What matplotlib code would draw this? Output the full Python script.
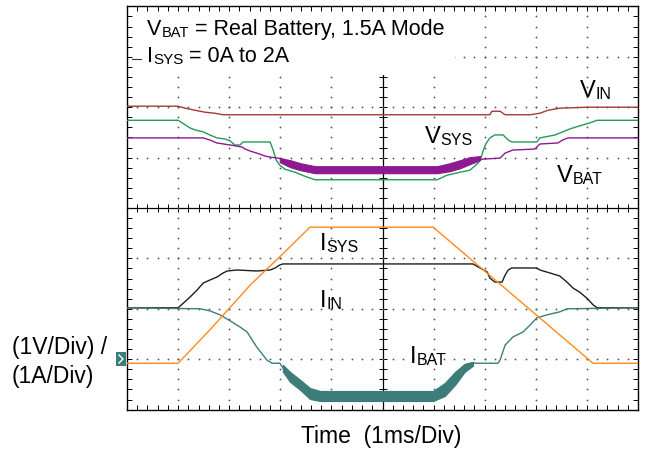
import matplotlib
matplotlib.use("Agg")
import matplotlib.pyplot as plt
import numpy as np
from matplotlib.patches import Rectangle
from matplotlib.lines import Line2D

plt.rcParams['font.family'] = ['Liberation Sans', 'DejaVu Sans']

# ---------------- data (time in ms, amplitude in screen divisions) ----------------
vin_t = [0, 1.0, 1.14, 1.33, 1.53, 1.72, 1.88, 7.10, 7.14, 7.30, 7.40, 7.89, 8.08, 8.24, 8.47, 9.00, 10]
vin_v = [6.02, 6.02, 5.98, 5.94, 5.90, 5.88, 5.85, 5.85, 5.92, 5.92, 5.85, 5.85, 5.88, 5.94, 5.98, 6.00, 6.00]

vsys_t = [0, 1.0, 1.14, 1.23, 1.33, 1.49, 1.62, 1.76, 1.92, 2.02, 2.11, 2.21, 2.27, 2.80, 2.86, 2.92,
          2.99, 3.09, 3.29, 3.48, 3.68, 6.07, 6.26, 6.52, 6.71, 6.87, 6.91, 7.01, 7.10, 7.20, 7.36,
          7.46, 7.53, 8.02, 8.08, 8.38, 8.67, 8.86, 9.06, 9.20, 10]
vsys_v = [5.74, 5.74, 5.65, 5.59, 5.55, 5.51, 5.45, 5.39, 5.37, 5.33, 5.25, 5.25, 5.31, 5.31, 5.15, 4.95,
          4.85, 4.77, 4.71, 4.63, 4.56, 4.56, 4.65, 4.71, 4.75, 4.89, 4.95, 5.25, 5.39, 5.45, 5.45,
          5.35, 5.31, 5.31, 5.39, 5.45, 5.57, 5.63, 5.69, 5.74, 5.74]

vbat_t = [0, 1.49, 1.62, 1.76, 2.02, 2.25, 2.31, 2.41, 2.60, 2.70, 2.80, 2.95, 3.05, 3.39, 3.68,
          6.07, 6.32, 6.52, 6.71, 6.97, 7.30, 7.40, 7.55, 7.98, 8.08, 8.43, 8.53, 8.63, 10]
vbat_v = [5.39, 5.39, 5.35, 5.29, 5.25, 5.21, 5.17, 5.13, 5.07, 5.03, 5.01, 4.99, 4.97, 4.83, 4.75,
          4.75, 4.81, 4.87, 4.93, 4.97, 4.99, 5.09, 5.15, 5.17, 5.27, 5.29, 5.35, 5.39, 5.39]
# noisy (ripple) envelope of VBAT during charging pulses
vbat_band_t = [2.99, 3.19, 3.39, 3.68, 4.17, 4.95, 6.07, 6.32, 6.52, 6.71, 6.91]
vbat_band_hi = [4.99, 4.95, 4.89, 4.83, 4.83, 4.83, 4.83, 4.89, 4.95, 5.01, 5.03]
vbat_band_lo = [4.91, 4.81, 4.75, 4.69, 4.69, 4.69, 4.69, 4.73, 4.79, 4.87, 4.95]

isys_t = [0, 1.0, 1.62, 2.41, 3.09, 3.58, 5.99, 9.12, 10]
isys_v = [0.92, 0.92, 1.58, 2.47, 3.13, 3.62, 3.62, 0.92, 0.92]

iin_t = [0, 1.0, 1.10, 1.23, 1.37, 1.49, 1.62, 1.76, 1.88, 1.96, 2.15, 2.54, 2.80, 2.90, 2.99, 3.05,
         6.77, 6.91, 7.05, 7.10, 7.20, 7.34, 7.40, 7.46, 7.53, 8.02, 8.08, 8.28, 8.47, 8.61, 8.73,
         8.86, 9.00, 9.12, 9.20, 10]
iin_v = [2.02, 2.02, 2.11, 2.23, 2.37, 2.51, 2.57, 2.63, 2.71, 2.75, 2.77, 2.75, 2.77, 2.81, 2.87, 2.89,
         2.89, 2.81, 2.73, 2.61, 2.53, 2.53, 2.67, 2.77, 2.81, 2.81, 2.77, 2.71, 2.65, 2.53, 2.41,
         2.33, 2.21, 2.08, 2.02, 2.02]

ibat_t = [0, 1.43, 1.62, 1.82, 2.02, 2.21, 2.35, 2.54, 2.74, 2.84, 2.99, 3.05, 3.19, 3.39, 3.58, 3.64,
          6.03, 6.26, 6.52, 6.71, 6.77, 7.26, 7.30, 7.40, 7.55, 7.75, 7.89, 8.02, 8.22, 8.47, 8.61, 10]
ibat_v = [2.02, 2.00, 1.96, 1.88, 1.76, 1.64, 1.54, 1.24, 0.98, 0.92, 0.92, 0.83, 0.63, 0.47, 0.29, 0.25,
          0.25, 0.45, 0.73, 0.89, 0.92, 0.92, 0.98, 1.28, 1.44, 1.54, 1.68, 1.82, 1.88, 1.94, 2.00, 2.02]
ibat_band_t = [3.05, 3.19, 3.39, 3.58, 3.78, 4.95, 5.99, 6.22, 6.42, 6.61, 6.77]
ibat_band_hi = [0.89, 0.75, 0.59, 0.43, 0.37, 0.37, 0.37, 0.53, 0.75, 0.91, 0.95]
ibat_band_lo = [0.75, 0.55, 0.39, 0.21, 0.17, 0.17, 0.17, 0.27, 0.49, 0.75, 0.87]

# ---------------- styling ----------------
C_VIN = '#a33b33'
C_VSYS = '#239a58'
C_VBAT = '#8e1a91'
C_ISYS = '#ff8a1c'
C_IIN = '#1e1e1e'
C_IBAT = '#3c7d7a'

W, H = 651, 455
fig = plt.figure(figsize=(W / 100, H / 100), dpi=100)
fig.patch.set_facecolor('white')
pos = [127 / W, 45.4 / H, 511 / W, 403.2 / H]

# center cross-hair axes (underneath)
axc = fig.add_axes(pos, zorder=0)
axc.set_xlim(0, 10)
axc.set_ylim(0, 8)
axc.spines['left'].set_position(('data', 5))
axc.spines['bottom'].set_position(('data', 4))
axc.spines['top'].set_visible(False)
axc.spines['right'].set_visible(False)
for s in ('left', 'bottom'):
    axc.spines[s].set_linewidth(0.9)
axc.set_xticks(np.arange(0, 11, 1))
axc.set_yticks(np.arange(0, 9, 1))
axc.set_xticks(np.arange(0, 10.01, 0.2), minor=True)
axc.set_yticks(np.arange(0, 8.01, 0.2), minor=True)
axc.tick_params(which='both', direction='inout', length=5.5, width=0.7,
                labelbottom=False, labelleft=False)

# main axes
ax = fig.add_axes(pos, zorder=1)
ax.patch.set_visible(False)
ax.set_xlim(0, 10)
ax.set_ylim(0, 8)
ax.set_axisbelow(False)
for s in ax.spines.values():
    s.set_linewidth(1.0)
ax.set_xticks(np.arange(0, 11, 1))
ax.set_yticks(np.arange(0, 9, 1))
ax.set_xticks(np.arange(0, 10.01, 0.2), minor=True)
ax.set_yticks(np.arange(0, 8.01, 0.2), minor=True)
ax.tick_params(which='both', direction='in', length=3.6, width=0.7,
               top=True, right=True, labelbottom=False, labelleft=False)

# dotted graticule
minor = np.arange(0.2, 10, 0.2)
minor_y = np.arange(0.2, 8, 0.2)
for gx in [1, 2, 3, 4, 6, 7, 8, 9]:
    ax.plot(np.full(len(minor_y), gx), minor_y, 'o', ms=1.3, mew=0, color='#555555', zorder=1)
for gy in [1, 2, 3, 5, 6, 7]:
    ax.plot(minor, np.full(len(minor), gy), 'o', ms=1.3, mew=0, color='#555555', zorder=1)

# white annotation box
ax.add_patch(Rectangle((0.08, 6.64), 6.34, 1.25, fc='white', ec='none', zorder=2))

# traces
lw = 1.0
ax.plot(vin_t, vin_v, color=C_VIN, lw=lw, zorder=3)
ax.plot(vsys_t, vsys_v, color=C_VSYS, lw=lw, zorder=3)
ax.plot(vbat_t, vbat_v, color=C_VBAT, lw=lw, zorder=3)
ax.fill_between(vbat_band_t, vbat_band_lo, vbat_band_hi, color=C_VBAT, lw=0.8, zorder=3)
ax.plot(iin_t, iin_v, color=C_IIN, lw=lw, zorder=3)
ax.plot(ibat_t, ibat_v, color=C_IBAT, lw=lw, zorder=3)
ax.fill_between(ibat_band_t, ibat_band_lo, ibat_band_hi, color=C_IBAT, lw=0.8, zorder=3)
ax.plot(isys_t, isys_v, color=C_ISYS, lw=lw, zorder=3)


def lab(x, y, parts, big, small):
    ann = ax.annotate(parts[0][0], xy=(x, H - y), xycoords='figure pixels', fontsize=big,
                      va='baseline', ha='left', annotation_clip=False, zorder=4)
    for s, sub in parts[1:]:
        ann = ax.annotate(s, xy=(1, 0), xycoords=ann, va='bottom', ha='left',
                          fontsize=small if sub else big, annotation_clip=False, zorder=4)


lab(147, 35, [("V", 0), ("BAT", 1), (" = Real Battery, 1.5A Mode", 0)], 15.5, 10.5)
lab(147, 62, [("I", 0), ("SYS", 1), (" = 0A to 2A", 0)], 15.5, 11)
lab(580, 97, [("V", 0), ("IN", 1)], 17, 11.5)
lab(425, 143, [("V", 0), ("SYS", 1)], 17, 11.5)
lab(557, 182, [("V", 0), ("BAT", 1)], 17, 11.5)
lab(320, 250, [("I", 0), ("SYS", 1)], 17, 11.5)
lab(320, 307, [("I", 0), ("IN", 1)], 17, 11.5)
lab(410, 363, [("I", 0), ("BAT", 1)], 17, 11.5)

fig.text(12 / W, 1 - 354 / H, "(1V/Div) /", fontsize=16.5, va='baseline', ha='left')
fig.text(12 / W, 1 - 383 / H, "(1A/Div)", fontsize=16.5, va='baseline', ha='left')
fig.text(301 / W, 1 - 443 / H, "Time  (1ms/Div)", fontsize=16.5, va='baseline', ha='left')

# channel ground marker
tr = fig.dpi_scale_trans
fig.add_artist(Rectangle((1.16, (H - 366) / 100), 0.10, 0.14, transform=tr,
                         fc=C_IBAT, ec='none', zorder=5))
fig.add_artist(Line2D([1.19, 1.23, 1.19], [(H - 355) / 100, (H - 359) / 100, (H - 363) / 100],
                      transform=tr, color='white', lw=1.0, zorder=6))
# small reference mark
fig.add_artist(Line2D([1.32, 1.41], [(H - 59) / 100, (H - 59) / 100], transform=tr,
                      color='#333333', lw=0.8, zorder=6))

fig.savefig('out.png', dpi=100, facecolor='white')
